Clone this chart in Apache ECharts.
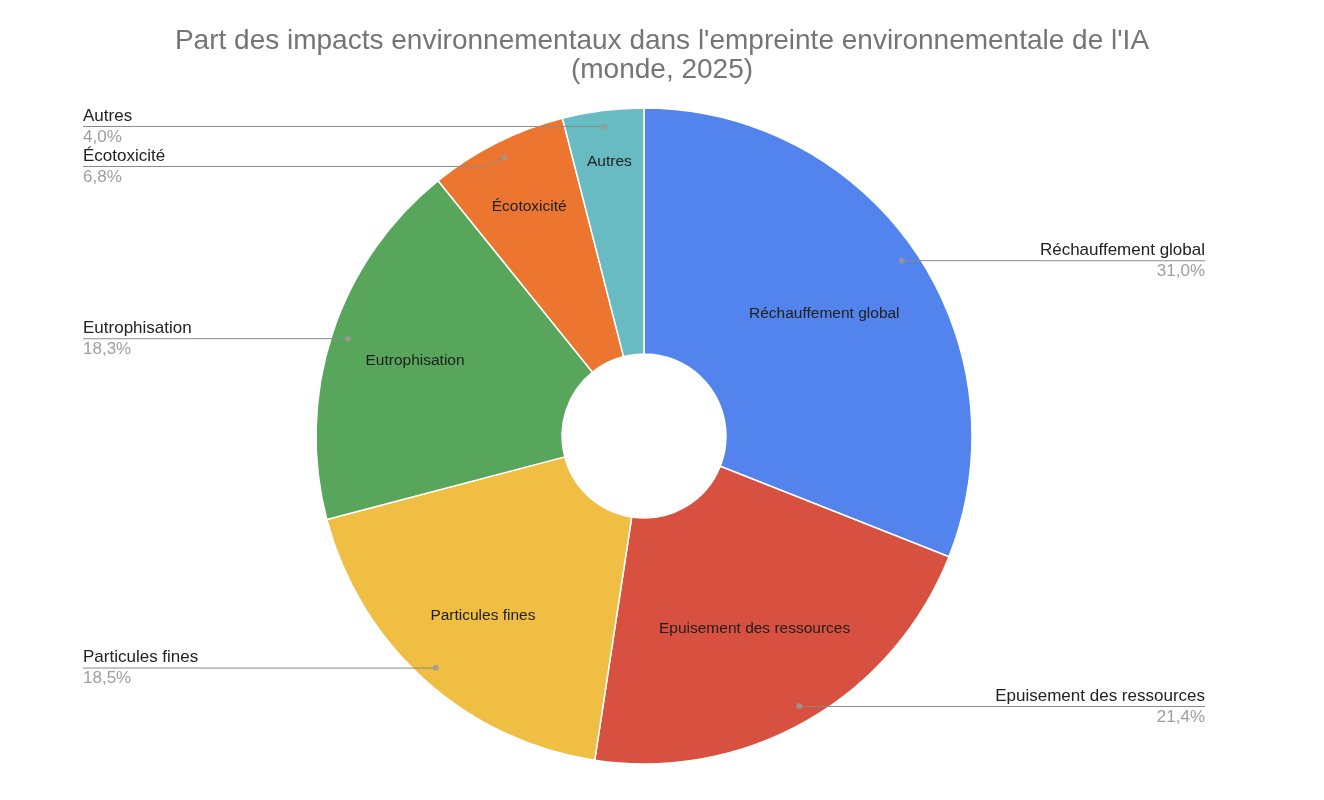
<!DOCTYPE html>
<html>
<head>
<meta charset="utf-8">
<script src="https://cdn.jsdelivr.net/npm/echarts@6/dist/echarts.min.js"></script>
<style>
html,body{margin:0;padding:0;background:#fff;}
#chart{width:1324px;height:800px;}
</style>
</head>
<body>
<div id="chart"></div>
<script>
const titleText = "Part des impacts environnementaux dans l'empreinte environnementale de l'IA\n(monde, 2025)";
const categories = ["Réchauffement global", "Epuisement des ressources", "Particules fines", "Eutrophisation", "Écotoxicité", "Autres"];
const values = [31.0, 21.4, 18.5, 18.3, 6.8, 4.0];
const colors = ["#5383EC", "#D85040", "#F0BE42", "#58A55C", "#EC7530", "#68BAC3"];

// layout: inner radius of the transparent ring used to place each inside label
const insideLabelRingInner = [102, 110, 148, 148, 178, 218];

const fmt = v => v.toFixed(1).replace('.', ',') + '%';
const data = categories.map((c, i) => ({ name: c, value: values[i], itemStyle: { color: colors[i] } }));
const plain = () => categories.map((c, i) => ({ name: c, value: values[i] }));

// dot positions: mid of cumulative share, on polar scale
const total = values.reduce((a, b) => a + b, 0);
let cum = 0;
const dots = values.map(v => { const mid = (cum + v / 2) / total * 100; cum += v; return [0.95, mid]; });

const FONT = '"Liberation Sans", Arial, sans-serif';
const CX = 644, CY = 436, R = 328;

const insideLabelSeries = [...new Set(insideLabelRingInner)].map(r0 => ({
  type: 'pie', center: [CX, CY], radius: [r0, R], startAngle: 90, clockwise: true, silent: true,
  data: plain().map((d, i) => Object.assign(d, { label: { show: insideLabelRingInner[i] === r0 } })),
  itemStyle: { color: 'rgba(0,0,0,0)' },
  label: { position: 'inside', formatter: '{b}', fontFamily: FONT, fontSize: 15.5, color: '#1f1f1f' },
  labelLine: { show: false }, z: 3
}));

const chart = echarts.init(document.getElementById('chart'));
chart.setOption({
  backgroundColor: '#fff',
  animation: false,
  title: {
    text: titleText, left: 'center', top: 22,
    textStyle: { fontFamily: FONT, fontSize: 28, fontWeight: 'normal', color: '#757575', lineHeight: 29 }
  },
  polar: { center: [CX, CY], radius: R },
  angleAxis: { type: 'value', min: 0, max: 100, startAngle: 90, clockwise: true, show: false },
  radiusAxis: { type: 'value', min: 0, max: 1, show: false },
  series: [
    {
      type: 'pie', center: [CX, CY], radius: [82, R], startAngle: 90, clockwise: true,
      data: data, silent: true,
      itemStyle: { borderColor: '#fff', borderWidth: 1.5 },
      label: { show: false }, labelLine: { show: false }, z: 1
    },
    ...insideLabelSeries,
    {
      type: 'pie', left: 83, right: 119, top: 0, bottom: 0,
      center: [CX - 83, CY], radius: [0, 312], startAngle: 90, clockwise: true, silent: true,
      itemStyle: { color: 'rgba(0,0,0,0)' },
      data: plain(),
      label: {
        show: true, position: 'outside', alignTo: 'edge', edgeDistance: 0, distanceToLabelLine: 0,
        formatter: p => '{n|' + p.name + '}\n{l|}\n{p|' + fmt(p.value) + '}',
        rich: {
          n: { fontFamily: FONT, fontSize: 17, color: '#222', lineHeight: 20 },
          l: { width: '100%', height: 1, lineHeight: 1, backgroundColor: '#8a8a8a' },
          p: { fontFamily: FONT, fontSize: 17, color: '#9e9e9e', lineHeight: 20 }
        }
      },
      labelLine: { show: true, length: 0, length2: 0, smooth: false, lineStyle: { color: '#8a8a8a', width: 1 } },
      z: 4
    },
    {
      type: 'scatter', coordinateSystem: 'polar', data: dots, symbol: 'circle', symbolSize: 6,
      itemStyle: { color: '#9a9a9a' }, silent: true, z: 6
    }
  ]
});
</script>
</body>
</html>
